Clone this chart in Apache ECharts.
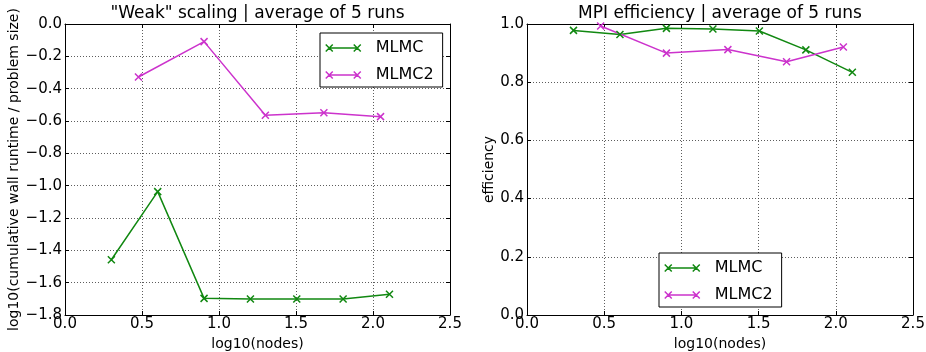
<!DOCTYPE html>
<html>
<head>
<meta charset="utf-8">
<script src="https://cdn.jsdelivr.net/npm/echarts@6/dist/echarts.min.js"></script>
<style>
html,body{margin:0;padding:0;background:#fff;}
#chart{width:926px;height:352px;}
</style>
</head>
<body>
<div id="chart"></div>
<script>
// ---- data ----
const weakX_MLMC  = [0.301, 0.602, 0.903, 1.204, 1.505, 1.806, 2.107];
const weakY_MLMC  = [-1.458, -1.037, -1.697, -1.701, -1.701, -1.701, -1.672];
const weakX_MLMC2 = [0.477, 0.903, 1.301, 1.681, 2.049];
const weakY_MLMC2 = [-0.328, -0.109, -0.565, -0.549, -0.573];

const effX_MLMC  = [0.301, 0.602, 0.903, 1.204, 1.505, 1.806, 2.107];
const effY_MLMC  = [0.978, 0.964, 0.985, 0.983, 0.976, 0.911, 0.834];
const effX_MLMC2 = [0.477, 0.903, 1.301, 1.681, 2.049];
const effY_MLMC2 = [0.993, 0.900, 0.912, 0.870, 0.921];

const seriesNames = ['MLMC', 'MLMC2'];
const titles = ['"Weak" scaling | average of 5 runs', 'MPI efficiency | average of 5 runs'];
const xName = 'log10(nodes)';
const yNames = ['log10(cumulative wall runtime / problem size)', 'efficiency'];

// ---- styling ----
const GREEN = '#118811';
const MAGENTA = '#cc33cc';
const FONT = 'DejaVu Sans';
const xMark = 'path://M0,0L10,10M10,0L0,10';
const legendIcon = 'path://M0,4L28,4M-3.5,0.5L3.5,7.5M3.5,0.5L-3.5,7.5M24.5,0.5L31.5,7.5M31.5,0.5L24.5,7.5';
const fmt = v => v.toFixed(1).replace('-', '\u2212');

const zip = (xs, ys) => xs.map((x, i) => [x, ys[i]]);

const grids = [
  {left: 65, top: 24, width: 385, height: 291, outerBoundsMode: 'none', containLabel: false},
  {left: 527, top: 24, width: 386, height: 291, outerBoundsMode: 'none', containLabel: false}
];

const gridLine = {show: true, lineStyle: {color: '#333', type: [1, 2], width: 0.8}};
const axLine = {show: true, onZero: false, lineStyle: {color: '#000', width: 1}};
const tick = {show: true, inside: true, length: 4, lineStyle: {color: '#000', width: 1}};

function mainX(gi) {
  return {
    type: 'value', gridIndex: gi, min: 0, max: 2.5, interval: 0.5, position: 'bottom',
    axisLine: axLine, axisTick: tick, splitLine: gridLine,
    axisLabel: {formatter: fmt, fontSize: 15, color: '#000', fontFamily: FONT, margin: 2},
    name: xName, nameLocation: 'middle', nameGap: 15,
    nameTextStyle: {fontSize: 14, color: '#000', fontFamily: FONT}
  };
}
function topX(gi) {
  return {
    type: 'value', gridIndex: gi, min: 0, max: 2.5, interval: 0.5, position: 'top',
    axisLine: axLine, axisTick: tick, splitLine: {show: false}, axisLabel: {show: false}
  };
}
function mainY(gi, min, max, nameGap) {
  return {
    type: 'value', gridIndex: gi, min: min, max: max, interval: 0.2, position: 'left',
    axisLine: axLine, axisTick: tick, splitLine: gridLine,
    axisLabel: {formatter: fmt, fontSize: 15, color: '#000', fontFamily: FONT, margin: 3},
    name: yNames[gi], nameLocation: 'middle', nameGap: nameGap, nameRotate: 90,
    nameTextStyle: {fontSize: 14, color: '#000', fontFamily: FONT}
  };
}
function rightY(gi, min, max) {
  return {
    type: 'value', gridIndex: gi, min: min, max: max, interval: 0.2, position: 'right',
    axisLine: axLine, axisTick: tick, splitLine: {show: false}, axisLabel: {show: false}
  };
}

function lineSeries(name, color, xi, yi, data) {
  return {
    type: 'line', name: name, xAxisIndex: xi, yAxisIndex: yi, data: data,
    symbol: xMark, symbolSize: 7,
    lineStyle: {color: color, width: 1.5},
    itemStyle: {color: color, borderColor: color, borderWidth: 1.5},
    emphasis: {disabled: true}
  };
}

function legend(left, top) {
  return {
    data: seriesNames.map(n => ({name: n, icon: legendIcon})),
    orient: 'vertical', left: left, top: top,
    itemWidth: 35, itemHeight: 7, itemGap: 11,
    padding: [7, 9, 4, 5],
    borderColor: '#000', borderWidth: 1, backgroundColor: '#fff',
    textStyle: {fontSize: 16, color: '#000', fontFamily: FONT, lineHeight: 16, padding: [0, 0, 0, 10]},
    selectedMode: false,
    itemStyle: {borderWidth: 1.5},
    lineStyle: {width: 1.5}
  };
}

const chart = echarts.init(document.getElementById('chart'), null, {renderer: 'canvas'});
chart.setOption({
  animation: false,
  backgroundColor: '#fff',
  textStyle: {fontFamily: FONT},
  title: [
    {text: titles[0], left: 257.5, top: 5, textAlign: 'center', padding: 0,
     textStyle: {fontSize: 17, fontWeight: 'normal', color: '#000', fontFamily: FONT}},
    {text: titles[1], left: 720, top: 5, textAlign: 'center', padding: 0,
     textStyle: {fontSize: 17, fontWeight: 'normal', color: '#000', fontFamily: FONT}}
  ],
  legend: [legend(320, 33), legend(659, 253)],
  grid: grids,
  xAxis: [mainX(0), topX(0), mainX(1), topX(1)],
  yAxis: [mainY(0, -1.8, 0, 38), rightY(0, -1.8, 0), mainY(1, 0, 1, 23), rightY(1, 0, 1)],
  series: [
    lineSeries(seriesNames[0], GREEN, 0, 0, zip(weakX_MLMC, weakY_MLMC)),
    lineSeries(seriesNames[1], MAGENTA, 0, 0, zip(weakX_MLMC2, weakY_MLMC2)),
    lineSeries(seriesNames[0], GREEN, 2, 2, zip(effX_MLMC, effY_MLMC)),
    lineSeries(seriesNames[1], MAGENTA, 2, 2, zip(effX_MLMC2, effY_MLMC2))
  ]
});
</script>
</body>
</html>
